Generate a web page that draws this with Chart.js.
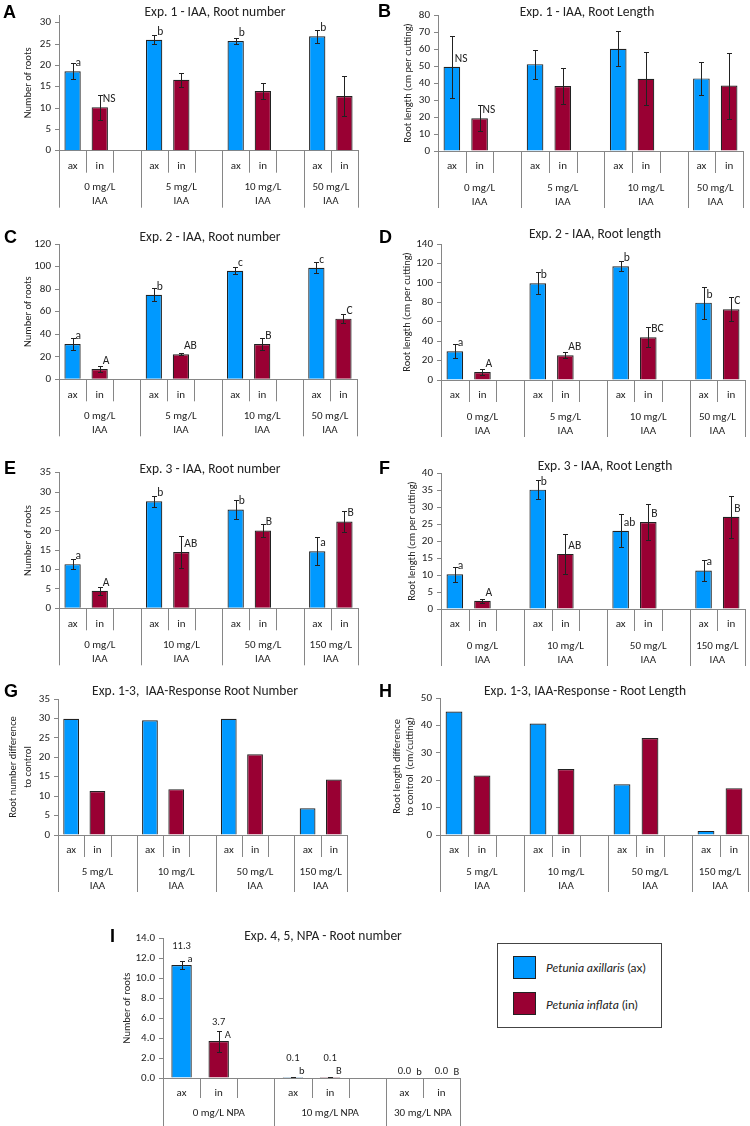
<!DOCTYPE html>
<html lang="en">

<head>
    <meta charset="UTF-8">
    <title>Petunia rooting - IAA and NPA</title>
    <script src="https://cdn.jsdelivr.net/npm/chart.js"></script>
    <style>
        body { margin: 0; background: #fff; width: 750px; height: 1126px; position: relative; overflow: hidden; }
        #key { position: absolute; left: 497px; top: 943px; width: 165px; height: 85px; border: 1.5px solid #444; box-sizing: border-box; font: 12px Lato, sans-serif; color: #222; }
        #key .sw { position: absolute; left: 15px; width: 23px; height: 23px; border: 1px solid #222; box-sizing: border-box; }
        #key .txt { position: absolute; left: 48px; line-height: 23px; }
    </style>
</head>

<body>

    <div id="key">
        <div class="sw" style="top:12px;background:#0099ff"></div>
        <div class="txt" style="top:12px"><i>Petunia axillaris</i> (ax)</div>
        <div class="sw" style="top:48px;background:#990033"></div>
        <div class="txt" style="top:49px"><i>Petunia inflata</i> (in)</div>
    </div>

    <script>
        // values
        const dosesExp1 = ['0 mg/L', '5 mg/L', '10 mg/L', '50 mg/L'];
        const dosesExp3 = ['0 mg/L', '10 mg/L', '50 mg/L', '150 mg/L'];
        const dosesResp = ['5 mg/L', '10 mg/L', '50 mg/L', '150 mg/L'];
        const dosesNpa = ['0 mg/L NPA', '10 mg/L NPA', '30 mg/L NPA'];

        // A - Exp 1 root number
        const numExp1Ax = [18.6, 26.0, 25.7, 26.8];
        const numExp1AxErr = [1.9, 1.1, 0.8, 1.6];
        const numExp1In = [10.2, 16.6, 14.0, 12.8];
        const numExp1InErr = [2.9, 1.6, 1.85, 4.6];
        const numExp1AxSig = ['a', 'b', 'b', 'b'];
        const numExp1InSig = ['NS', '', '', ''];

        // B - Exp 1 root length
        const lenExp1Ax = [49.6, 51.1, 60.1, 42.7];
        const lenExp1AxErr = [18.3, 8.6, 10.2, 9.6];
        const lenExp1In = [19.2, 38.2, 42.5, 38.5];
        const lenExp1InErr = [7.7, 10.4, 15.5, 19.4];
        const lenExp1AxSig = ['NS', '', '', ''];
        const lenExp1InSig = ['NS', '', '', ''];

        // C - Exp 2 root number
        const numExp2Ax = [31.3, 75.0, 96.3, 99.0];
        const numExp2AxErr = [5.3, 5.6, 3.3, 5.0];
        const numExp2In = [9.2, 22.2, 31.3, 53.8];
        const numExp2InErr = [2.6, 0.9, 5.0, 4.1];
        const numExp2AxSig = ['a', 'b', 'c', 'c'];
        const numExp2InSig = ['A', 'AB', 'B', 'C'];

        // D - Exp 2 root length
        const lenExp2Ax = [29.5, 99.5, 117.0, 79.6];
        const lenExp2AxErr = [7.2, 11.3, 5.2, 16.5];
        const lenExp2In = [8.2, 25.4, 43.9, 72.8];
        const lenExp2InErr = [2.8, 3.1, 10.3, 12.3];
        const lenExp2AxSig = ['a', 'b', 'b', 'b'];
        const lenExp2InSig = ['A', 'AB', 'BC', 'C'];

        // E - Exp 3 root number
        const numExp3Ax = [11.4, 27.6, 25.5, 14.7];
        const numExp3AxErr = [1.3, 1.5, 2.5, 3.6];
        const numExp3In = [4.5, 14.5, 20.1, 22.4];
        const numExp3InErr = [1.0, 4.1, 1.6, 2.6];
        const numExp3AxSig = ['a', 'b', 'b', 'a'];
        const numExp3InSig = ['A', 'AB', 'B', 'B'];

        // F - Exp 3 root length
        const lenExp3Ax = [10.2, 35.1, 23.0, 11.3];
        const lenExp3AxErr = [2.2, 2.8, 4.9, 3.1];
        const lenExp3In = [2.4, 16.2, 25.6, 27.1];
        const lenExp3InErr = [0.6, 6.0, 5.3, 6.2];
        const lenExp3AxSig = ['a', 'b', 'ab', 'a'];
        const lenExp3InSig = ['A', 'AB', 'B', 'B'];

        // G, H - response relative to control
        const respNumAx = [29.9, 29.5, 29.9, 6.9];
        const respNumIn = [11.3, 11.8, 20.8, 14.3];
        const respLenAx = [45.1, 40.7, 18.5, 1.5];
        const respLenIn = [21.7, 24.1, 35.4, 17.1];

        // I - NPA
        const npaAx = [11.3, 0.1, 0.0];
        const npaAxErr = [0.45, 0.03, 0];
        const npaIn = [3.7, 0.1, 0.0];
        const npaInErr = [1.05, 0.03, 0];
        const npaAxSig = ['a', 'b', 'b'];
        const npaInSig = ['A', 'B', 'B'];

        const FONT = 'Carlito, Lato, sans-serif';
        const TXT = '#222';
        const AXIS = '#868686';
        const BLUE = '#0099ff';
        const RED = '#990033';

        function makePanel(p) {
            const [cl, ct, cw, ch] = p.box;
            const [pl, pt, pr, pb] = p.plot;
            const canvas = document.createElement('canvas');
            canvas.width = cw;
            canvas.height = ch;
            canvas.style.cssText = `position:absolute;left:${cl}px;top:${ct}px;width:${cw}px;height:${ch}px`;
            document.body.appendChild(canvas);

            // three slots per dose (ax, in, blank), no blank after the last one
            const labels = [], axData = [], inData = [];
            p.doses.forEach((d, i) => {
                labels.push('ax', 'in');
                axData.push(p.ax[i], null);
                inData.push(null, p.inf[i]);
                if (i < p.doses.length - 1) {
                    labels.push('');
                    axData.push(null);
                    inData.push(null);
                }
            });

            const deco = {
                id: 'deco',
                afterDraw(chart) {
                    const ctx = chart.ctx;
                    const xs = chart.scales.x, ys = chart.scales.y;
                    const base = ys.getPixelForValue(0);
                    const n = labels.length;
                    ctx.save();

                    // multi-level category axis
                    ctx.strokeStyle = AXIS;
                    ctx.lineWidth = 1;
                    for (let b = 0; b <= n; b++) {
                        const x = Math.round(xs.getPixelForValue(b - 0.5)) + 0.5;
                        const long = b % 3 === 0 || b === n;
                        ctx.beginPath();
                        ctx.moveTo(x, base);
                        ctx.lineTo(x, base + (long ? p.sepLong : p.sepShort));
                        ctx.stroke();
                    }
                    ctx.fillStyle = TXT;
                    ctx.font = `11px ${FONT}`;
                    ctx.textAlign = 'center';
                    ctx.textBaseline = 'middle';
                    labels.forEach((l, s) => {
                        if (l) ctx.fillText(l, xs.getPixelForValue(s), base + p.lab1);
                    });
                    p.doses.forEach((d, g) => {
                        const last = Math.min(g * 3 + 2, n - 1);
                        const cx = (xs.getPixelForValue(g * 3 - 0.5) + xs.getPixelForValue(last + 0.5)) / 2;
                        ctx.fillText(d, cx, base + p.lab2[0]);
                        if (p.unit) ctx.fillText(p.unit, cx, base + p.lab2[1]);
                    });

                    // error bars and letters
                    const series = [
                        { k: 0, v: p.ax, e: p.axErr, s: p.axSig },
                        { k: 1, v: p.inf, e: p.inErr, s: p.inSig }
                    ];
                    series.forEach(se => {
                        const meta = chart.getDatasetMeta(se.k);
                        p.doses.forEach((d, g) => {
                            const bar = meta.data[g * 3 + se.k];
                            const v = se.v[g];
                            if (se.e && se.e[g]) {
                                const yT = Math.round(ys.getPixelForValue(v + se.e[g])) + 0.5;
                                const yB = Math.round(ys.getPixelForValue(Math.max(0, v - se.e[g]))) + 0.5;
                                const x = Math.round(bar.x) + 0.5;
                                ctx.strokeStyle = TXT;
                                ctx.beginPath();
                                ctx.moveTo(x, yT); ctx.lineTo(x, yB);
                                ctx.moveTo(x - 2.5, yT); ctx.lineTo(x + 2.5, yT);
                                ctx.moveTo(x - 2.5, yB); ctx.lineTo(x + 2.5, yB);
                                ctx.stroke();
                            }
                            ctx.fillStyle = TXT;
                            if (p.values) {
                                ctx.font = `10.5px ${FONT}`;
                                ctx.textAlign = 'center';
                                const zero = v < 0.05;
                                ctx.fillText(v.toFixed(1), bar.x, bar.y - (zero ? 7 : 19));
                                if (se.s && se.s[g]) {
                                    ctx.textAlign = 'left';
                                    ctx.fillText(se.s[g], bar.x + (zero ? 12 : 6), bar.y - 6);
                                }
                            } else if (se.s && se.s[g]) {
                                ctx.font = `11.5px ${FONT}`;
                                ctx.textAlign = 'left';
                                ctx.fillText(se.s[g], bar.x + 3, bar.y - 8);
                            }
                        });
                    });

                    // title, axis title, panel letter
                    ctx.fillStyle = TXT;
                    ctx.textAlign = 'center';
                    ctx.font = `13.5px ${FONT}`;
                    ctx.fillText(p.title, p.titlePos[0] - cl, p.titlePos[1] - ct);
                    ctx.font = `10.5px ${FONT}`;
                    const cy = (chart.chartArea.top + base) / 2;
                    p.ytitle.forEach((line, i) => {
                        ctx.save();
                        ctx.translate(p.ytitleX[i], cy);
                        ctx.rotate(-Math.PI / 2);
                        ctx.fillText(line, 0, 0);
                        ctx.restore();
                    });
                    ctx.font = 'bold 18px "Liberation Sans", Arial, sans-serif';
                    ctx.textAlign = 'left';
                    ctx.fillStyle = '#000';
                    ctx.fillText(p.letter, p.letterPos[0] - cl, p.letterPos[1] - ct);
                    ctx.restore();
                }
            };

            new Chart(canvas.getContext('2d'), {
                type: 'bar',
                data: {
                    labels: labels,
                    datasets: [{
                            label: 'Petunia axillaris (ax)',
                            data: axData,
                            backgroundColor: BLUE,
                            borderColor: '#222',
                            borderWidth: 1.2
                        },
                        {
                            label: 'Petunia inflata (in)',
                            data: inData,
                            backgroundColor: RED,
                            borderColor: '#222',
                            borderWidth: 1.2
                        }
                    ]
                },
                options: {
                    responsive: false,
                    animation: false,
                    events: [],
                    layout: { padding: { left: 0, top: pt, right: cw - pr, bottom: 0 } },
                    datasets: { bar: { grouped: false, categoryPercentage: 1, barPercentage: p.barPct || 0.6 } },
                    plugins: { legend: { display: false }, tooltip: { enabled: false } },
                    scales: {
                        x: {
                            grid: { display: false },
                            border: { color: AXIS },
                            ticks: { display: false },
                            afterFit: s => { s.height = ch - pb; }
                        },
                        y: {
                            min: 0,
                            max: p.ymax,
                            border: { color: AXIS },
                            grid: { drawOnChartArea: false, drawTicks: true, tickLength: 4, color: AXIS },
                            ticks: {
                                stepSize: p.step,
                                includeBounds: false,
                                padding: 4,
                                color: TXT,
                                font: { family: FONT, size: 11 },
                                callback: p.fmt || (v => v)
                            },
                            afterFit: s => { s.width = pl; }
                        }
                    }
                },
                plugins: [deco]
            });
        }

        const iaaAxis = { unit: 'IAA', sepShort: 22, sepLong: 57, lab1: 15.5, lab2: [37, 51] };

        makePanel(Object.assign({}, iaaAxis, {
            box: [0, 0, 375, 215], plot: [59, 15, 358, 150.7], ymax: 31.8, step: 5,
            title: 'Exp. 1 - IAA, Root number', titlePos: [215, 13], letter: 'A', letterPos: [3, 13],
            ytitle: ['Number of roots'], ytitleX: [28],
            doses: dosesExp1, ax: numExp1Ax, axErr: numExp1AxErr, inf: numExp1In, inErr: numExp1InErr,
            axSig: numExp1AxSig, inSig: numExp1InSig
        }));
        makePanel(Object.assign({}, iaaAxis, {
            box: [375, 0, 375, 215], plot: [63, 15, 368, 151], ymax: 80, step: 10,
            title: 'Exp. 1 - IAA, Root Length', titlePos: [587, 13], letter: 'B', letterPos: [378, 12],
            ytitle: ['Root length (cm per cutting)'], ytitleX: [33],
            doses: dosesExp1, ax: lenExp1Ax, axErr: lenExp1AxErr, inf: lenExp1In, inErr: lenExp1InErr,
            axSig: lenExp1AxSig, inSig: lenExp1InSig
        }));
        makePanel(Object.assign({}, iaaAxis, {
            box: [0, 220, 375, 222], plot: [59, 24, 357, 159.3], ymax: 120, step: 20,
            title: 'Exp. 2 - IAA, Root number', titlePos: [210, 238], letter: 'C', letterPos: [4, 238],
            ytitle: ['Number of roots'], ytitleX: [28],
            doses: dosesExp1, ax: numExp2Ax, axErr: numExp2AxErr, inf: numExp2In, inErr: numExp2InErr,
            axSig: numExp2AxSig, inSig: numExp2InSig
        }));
        makePanel(Object.assign({}, iaaAxis, {
            box: [375, 220, 375, 222], plot: [66, 24, 370, 160], ymax: 140, step: 20,
            title: 'Exp. 2 - IAA, Root length', titlePos: [595, 235], letter: 'D', letterPos: [379, 238],
            ytitle: ['Root length (cm per cutting)'], ytitleX: [32],
            doses: dosesExp1, ax: lenExp2Ax, axErr: lenExp2AxErr, inf: lenExp2In, inErr: lenExp2InErr,
            axSig: lenExp2AxSig, inSig: lenExp2InSig
        }));
        makePanel(Object.assign({}, iaaAxis, {
            box: [0, 450, 375, 222], plot: [59, 22.7, 358, 158.3], ymax: 35, step: 5,
            title: 'Exp. 3 - IAA, Root number', titlePos: [210, 470], letter: 'E', letterPos: [4, 469],
            ytitle: ['Number of roots'], ytitleX: [28],
            doses: dosesExp3, ax: numExp3Ax, axErr: numExp3AxErr, inf: numExp3In, inErr: numExp3InErr,
            axSig: numExp3AxSig, inSig: numExp3InSig
        }));
        makePanel(Object.assign({}, iaaAxis, {
            box: [375, 450, 375, 222], plot: [66, 23, 370, 159], ymax: 40, step: 5,
            title: 'Exp. 3 - IAA, Root Length', titlePos: [605, 467], letter: 'F', letterPos: [379, 469],
            ytitle: ['Root length (cm per cutting)'], ytitleX: [37],
            doses: dosesExp3, ax: lenExp3Ax, axErr: lenExp3AxErr, inf: lenExp3In, inErr: lenExp3InErr,
            axSig: lenExp3AxSig, inSig: lenExp3InSig
        }));
        makePanel(Object.assign({}, iaaAxis, {
            box: [0, 680, 375, 215], plot: [58, 19, 347, 155], ymax: 35, step: 5,
            title: 'Exp. 1-3,  IAA-Response Root Number', titlePos: [195, 692], letter: 'G', letterPos: [4, 692],
            ytitle: ['Root number difference', 'to control'], ytitleX: [13, 28],
            doses: dosesResp, ax: respNumAx, inf: respNumIn
        }));
        makePanel(Object.assign({}, iaaAxis, {
            box: [375, 680, 375, 215], plot: [65, 18, 373, 155], ymax: 50, step: 5,
            title: 'Exp. 1-3, IAA-Response - Root Length', titlePos: [585, 692], letter: 'H', letterPos: [379, 692],
            ytitle: ['Root length difference', 'to control  (cm/cutting)'], ytitleX: [22, 35],
            doses: dosesResp, ax: respLenAx, inf: respLenIn
        }));
        makePanel({
            unit: null, sepShort: 20, sepLong: 48, lab1: 15, lab2: [35, 0],
            box: [110, 895, 400, 231], plot: [53, 43, 350, 183], ymax: 14, step: 2, fmt: v => v.toFixed(1),
            barPct: 0.55, values: true,
            title: 'Exp. 4, 5, NPA - Root number', titlePos: [323, 937], letter: 'I', letterPos: [110, 937],
            ytitle: ['Number of roots'], ytitleX: [17],
            doses: dosesNpa, ax: npaAx, axErr: npaAxErr, inf: npaIn, inErr: npaInErr,
            axSig: npaAxSig, inSig: npaInSig
        });
    </script>

</body>

</html>
